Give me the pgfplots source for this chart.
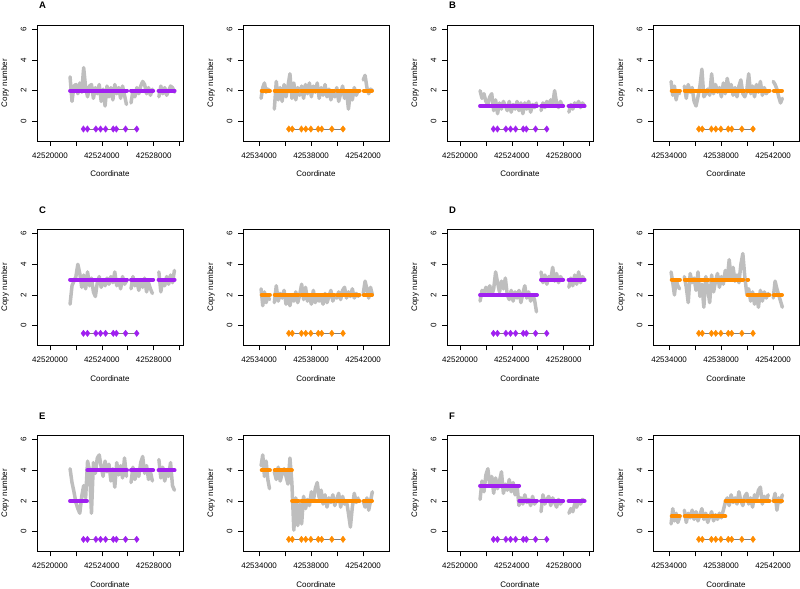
\documentclass[border=0pt]{standalone}
\usepackage{fontspec}
\setmainfont{Liberation Sans}
\usepackage{pgfplots}
\usepackage{pgfplotstable}
\pgfplotsset{compat=1.18}

\definecolor{cnpurple}{HTML}{A020F0}
\definecolor{cnorange}{HTML}{FF8C00}
\definecolor{cngrey}{HTML}{BEBEBE}
\definecolor{genegrey}{HTML}{808080}

% left half panels (purple), copy number per probe, nan = gap
\pgfplotstableread{
x        A   B   C   D   E   F
42521550 2.9 2.0 1.4 1.6 4.1 2.1
42521700 1.3 1.5 2.6 2.3 3.2 3.3
42521850 2.3 1.8 2.9 2.1 2.6 2.6
42522000 2.4 1.3 3.2 2.5 1.9 3.7
42522150 1.8 1.1 4.0 2.2 1.5 4.1
42522300 2.5 1.6 3.4 2.6 1.2 3.0
42522450 1.9 1.8 2.5 2.0 2.3 3.6
42522600 3.5 0.7 3.3 2.4 3.0 2.5
42522750 2.2 1.4 2.4 3.5 2.2 3.5
42522900 1.6 0.5 3.5 2.8 4.6 2.8
42523050 2.3 1.2 2.6 2.2 4.0 3.3
42523200 2.4 0.8 3.1 2.9 1.2 3.9
42523350 1.5 1.3 2.2 2.4 4.5 2.5
42523500 2.2 1.0 1.9 3.1 3.8 3.1
42523650 1.8 0.7 2.8 2.0 4.8 2.7
42523800 2.4 1.3 3.2 1.7 5.0 3.4
42523950 1.3 0.6 2.5 2.3 4.2 2.6
42524100 2.1 1.1 3.0 1.6 3.6 3.2
42524250 1.0 0.8 2.6 2.2 4.6 2.4
42524400 2.3 1.3 3.1 1.8 3.9 3.0
42524550 1.6 0.7 2.7 2.3 4.4 1.7
42524700 2.2 1.2 3.2 1.5 3.3 2.2
42524850 1.4 0.5 2.8 2.1 4.1 1.8
42525000 2.4 1.2 3.5 2.6 2.9 2.4
42525150 1.8 0.8 2.6 1.8 4.5 1.9
42525300 2.2 1.3 3.0 2.2 3.7 2.1
42525450 1.5 0.6 2.4 1.6 4.3 1.7
42525600 2.3 1.1 3.2 2.0 3.5 2.3
42525750 1.7 0.9 2.7 1.7 4.8 1.8
42525900 1.1 1.2 2.9 0.9 3.6 2.0
42526100 nan nan nan nan nan nan
42526250 1.2 0.7 2.4 3.5 3.2 1.3
42526400 2.0 1.2 3.2 2.8 4.2 2.4
42526550 1.6 0.9 2.6 3.3 3.4 1.8
42526700 2.2 1.3 2.9 2.7 3.9 2.1
42526850 1.8 1.0 2.3 3.2 3.6 2.3
42527000 2.3 1.4 3.0 3.0 4.5 1.7
42527150 2.6 1.1 2.5 3.8 4.9 2.2
42527300 2.4 2.0 3.1 2.9 3.8 1.9
42527450 1.8 1.2 2.2 3.4 4.3 1.6
42527600 2.2 0.9 2.8 2.8 3.4 2.1
42527750 1.7 1.3 2.4 3.2 3.9 1.8
42527900 2.1 1.0 2.1 3.0 3.3 2.0
42528150 nan nan nan nan nan nan
42528400 1.6 0.6 3.5 2.5 4.7 1.2
42528550 2.3 1.1 2.2 3.1 3.5 1.5
42528700 1.8 0.8 3.0 2.6 4.2 1.3
42528850 2.2 1.2 2.6 3.3 3.3 1.8
42529000 1.7 1.0 3.2 2.7 3.9 1.6
42529150 2.0 1.3 2.7 3.5 3.6 2.0
42529300 2.3 0.9 3.3 2.8 4.5 1.8
42529450 2.2 1.2 2.8 3.2 3.0 2.1
42529600 1.9 1.0 3.6 3.0 2.7 2.0
}\tabL

% right half panels (orange)
\pgfplotstableread{
x        A   B   C   D   E   F
42534150 1.5 2.6 2.4 3.5 4.3 0.5
42534280 2.2 1.7 1.3 2.8 5.0 1.5
42534410 2.5 2.3 2.2 2.0 3.6 0.7
42534540 1.9 1.4 1.5 3.0 4.6 1.2
42534670 2.1 2.0 1.9 2.6 3.4 0.6
42534800 2.0 1.8 1.7 2.4 2.8 0.9
42535000 nan nan nan nan nan nan
42535170 0.8 2.3 1.5 3.2 3.9 1.4
42535320 2.6 1.5 2.6 2.5 3.4 0.6
42535470 1.4 2.4 1.6 1.5 4.2 1.2
42535620 2.2 1.9 2.1 3.4 3.3 0.9
42535770 1.3 2.2 1.8 2.8 3.8 1.4
42535920 2.4 1.3 2.3 3.1 4.1 0.8
42536070 1.6 1.0 1.4 2.3 3.6 1.3
42536220 2.3 1.6 1.9 3.5 3.1 0.7
42536370 3.1 2.3 1.3 1.9 4.8 1.1
42536520 1.5 3.4 2.0 2.7 3.2 1.5
42536670 2.5 1.6 1.6 1.2 0.1 0.8
42536820 1.4 1.8 2.2 3.2 2.2 1.2
42536970 2.2 2.1 1.5 2.4 0.4 0.6
42537120 1.7 1.7 2.0 1.5 1.8 1.0
42537270 2.3 3.1 2.7 3.3 0.5 1.3
42537420 1.5 1.8 1.7 2.2 2.3 0.7
42537570 2.4 2.4 2.5 2.9 1.5 1.1
42537720 1.8 1.9 1.6 3.4 2.1 0.8
42537870 2.5 2.2 1.9 2.5 1.7 1.2
42538020 1.6 1.6 1.4 3.2 2.6 0.9
42538170 2.3 2.5 2.3 2.7 2.0 1.4
42538320 1.9 1.8 1.5 3.6 2.8 1.9
42538470 2.5 2.8 2.0 3.0 3.2 2.2
42538620 1.5 2.1 1.6 4.3 2.2 1.7
42538770 2.2 2.4 1.8 3.1 2.7 2.4
42538920 1.7 1.7 1.4 3.8 1.8 1.9
42539070 2.4 2.2 2.1 2.9 2.4 2.2
42539220 1.6 1.6 1.5 3.3 1.6 1.8
42539370 2.1 2.3 1.9 2.8 2.2 2.6
42539520 1.4 2.7 2.3 4.0 1.9 2.0
42539670 1.9 1.8 1.6 4.7 2.4 1.7
42539820 1.6 1.6 2.0 3.2 1.7 2.3
42539970 2.2 2.0 1.8 2.1 2.1 2.5
42540120 1.3 3.1 2.2 2.4 2.5 1.8
42540270 1.8 1.8 1.7 1.6 1.6 2.2
42540420 2.3 2.3 2.3 2.2 2.3 1.6
42540570 1.5 1.6 2.5 1.4 1.8 2.4
42540720 2.0 2.4 1.8 2.0 2.0 2.1
42540870 0.8 1.9 2.2 1.2 1.2 2.7
42541020 1.9 2.6 1.9 2.3 0.3 2.9
42541170 1.4 1.7 2.4 1.6 1.6 1.8
42541320 2.2 2.2 1.8 2.2 2.5 2.3
42541470 1.7 1.8 2.1 1.8 1.9 2.0
42541620 2.0 2.0 1.9 2.1 2.2 2.4
42541820 nan nan nan nan nan nan
42542010 2.7 2.6 2.1 1.8 2.0 2.0
42542150 3.0 2.4 2.9 2.9 1.6 2.5
42542290 2.2 2.1 2.4 2.4 2.2 1.4
42542430 1.8 1.6 1.8 2.0 1.4 2.2
42542570 2.1 1.2 2.5 1.6 2.0 1.9
42542710 2.0 1.5 2.0 1.2 2.6 2.4
}\tabR

\pgfplotsset{
  cn/.style={
    scale only axis, width=146bp, height=116bp,
    ymin=-1.28, ymax=6.28, ytick={0,2,4,6},
    axis line style={line width=0.6bp},
    tick align=outside, major tick length=5bp, tick pos=left,
    tick style={black, line width=0.6bp},
    scaled x ticks=false,
    font=\fontsize{8bp}{9.6bp}\selectfont,
    ticklabel style={font=\fontsize{8bp}{9.6bp}\selectfont},
    /pgf/number format/assume math mode=true,
    yticklabel style={rotate=90, anchor=south},
    xticklabel shift=3bp, yticklabel shift=2bp,
    xlabel=Coordinate, ylabel=Copy number,
    xlabel style={at={([yshift=-33bp]rel axis cs:0.5,0)}, anchor=center},
    ylabel style={at={([xshift=-32bp]rel axis cs:0,0.5)}, anchor=center},
    unbounded coords=jump,
  },
  colL/.style={cn, xmin=42519000, xmax=42530260,
    xtick={42520000,42522000,42524000,42526000,42528000,42530000},
    xticklabels={42520000,,42524000,,42528000,}},
  colR/.style={cn, xmin=42532760, xmax=42543990,
    xtick={42534000,42536000,42538000,42540000,42542000},
    xticklabels={42534000,,42538000,,42542000}},
  greyline/.style={cngrey, line width=3.5bp, line cap=round, line join=round, no marks},
  segL/.style={cnpurple, line width=4bp, line cap=round, no marks},
  segR/.style={cnorange, line width=4bp, line cap=round, no marks},
}

% gene structure (exons)
\newcommand{\geneL}{%
  \addplot[genegrey, line width=0.9bp, no marks] coordinates {(42522560,-0.5)(42526720,-0.5)};
  \addplot[only marks, mark=diamond*, mark size=3.2bp, cnpurple] coordinates {
    (42522580,-0.5)(42522890,-0.5)(42523540,-0.5)(42523900,-0.5)(42524290,-0.5)
    (42524880,-0.5)(42525120,-0.5)(42525830,-0.5)(42526690,-0.5)};}
\newcommand{\geneR}{%
  \addplot[genegrey, line width=0.9bp, no marks] coordinates {(42536260,-0.5)(42540470,-0.5)};
  \addplot[only marks, mark=diamond*, mark size=3.2bp, cnorange] coordinates {
    (42536285,-0.5)(42536550,-0.5)(42537253,-0.5)(42537588,-0.5)(42537978,-0.5)
    (42538547,-0.5)(42538813,-0.5)(42539593,-0.5)(42540451,-0.5)};}

\begin{document}
\begin{tikzpicture}
\useasboundingbox (0,0) rectangle (800bp,589bp);

% ---- row 1 ----
\begin{axis}[colL, name=pA, at={(37bp,564bp)}, anchor=north west]
  \addplot[greyline] table[x=x,y=A]{\tabL};
  \addplot[segL] coordinates {(42521550,2)(42525940,2)(42526100,nan)(42526250,2)(42527960,2)(42528150,nan)(42528380,2)(42529610,2)};
  \geneL
\end{axis}
\begin{axis}[colR, at={(243bp,564bp)}, anchor=north west]
  \addplot[greyline] table[x=x,y=A]{\tabR};
  \addplot[segR] coordinates {(42534200,2)(42534830,2)(42535000,nan)(42535200,2)(42537040,2)(42537100,nan)(42537230,2)(42539790,2)(42539900,nan)(42539990,2)(42541720,2)(42541820,nan)(42542050,2)(42542680,2)};
  \geneR
\end{axis}
\begin{axis}[colL, name=pB, at={(447bp,564bp)}, anchor=north west]
  \addplot[greyline] table[x=x,y=B]{\tabL};
  \addplot[segL] coordinates {(42521550,1)(42525940,1)(42526100,nan)(42526250,1)(42527960,1)(42528150,nan)(42528380,1)(42529610,1)};
  \geneL
\end{axis}
\begin{axis}[colR, at={(653bp,564bp)}, anchor=north west]
  \addplot[greyline] table[x=x,y=B]{\tabR};
  \addplot[segR] coordinates {(42534200,2)(42534830,2)(42535000,nan)(42535200,2)(42537040,2)(42537100,nan)(42537230,2)(42539790,2)(42539900,nan)(42539990,2)(42541720,2)(42541820,nan)(42542050,2)(42542680,2)};
  \geneR
\end{axis}

% ---- row 2 ----
\begin{axis}[colL, name=pC, at={(37bp,359.7bp)}, anchor=north west]
  \addplot[greyline] table[x=x,y=C]{\tabL};
  \addplot[segL] coordinates {(42521550,3)(42525940,3)(42526100,nan)(42526250,3)(42527960,3)(42528150,nan)(42528380,3)(42529610,3)};
  \geneL
\end{axis}
\begin{axis}[colR, at={(243bp,359.7bp)}, anchor=north west]
  \addplot[greyline] table[x=x,y=C]{\tabR};
  \addplot[segR] coordinates {(42534200,2)(42534830,2)(42535000,nan)(42535200,2)(42537040,2)(42537100,nan)(42537230,2)(42539790,2)(42539900,nan)(42539990,2)(42541720,2)(42541820,nan)(42542050,2)(42542680,2)};
  \geneR
\end{axis}
\begin{axis}[colL, name=pD, at={(447bp,359.7bp)}, anchor=north west]
  \addplot[greyline] table[x=x,y=D]{\tabL};
  \addplot[segL] coordinates {(42521550,2)(42525940,2)(42526100,nan)(42526250,3)(42527960,3)(42528150,nan)(42528380,3)(42529610,3)};
  \geneL
\end{axis}
\begin{axis}[colR, at={(653bp,359.7bp)}, anchor=north west]
  \addplot[greyline] table[x=x,y=D]{\tabR};
  \addplot[segR] coordinates {(42534200,3)(42534830,3)(42535000,nan)(42535200,3)(42537040,3)(42537100,nan)(42537230,3)(42539700,3)(42539900,nan)(42540020,3)(42540080,3)};
  \addplot[segR] coordinates {(42540020,2)(42541720,2)(42541820,nan)(42542050,2)(42542680,2)};
  \geneR
\end{axis}

% ---- row 3 ----
\begin{axis}[colL, name=pE, at={(37bp,153.7bp)}, anchor=north west]
  \addplot[greyline] table[x=x,y=E]{\tabL};
  \addplot[segL] coordinates {(42521550,2)(42522850,2)(42522870,nan)(42522880,4)(42525940,4)(42526100,nan)(42526250,4)(42527960,4)(42528150,nan)(42528380,4)(42529610,4)};
  \geneL
\end{axis}
\begin{axis}[colR, at={(243bp,153.7bp)}, anchor=north west]
  \addplot[greyline] table[x=x,y=E]{\tabR};
  \addplot[segR] coordinates {(42534200,4)(42534830,4)(42535000,nan)(42535200,4)(42536520,4)(42536530,nan)(42536540,2)(42537040,2)(42537100,nan)(42537230,2)(42539790,2)(42539900,nan)(42539990,2)(42541720,2)(42541820,nan)(42542050,2)(42542680,2)};
  \geneR
\end{axis}
\begin{axis}[colL, name=pF, at={(447bp,153.7bp)}, anchor=north west]
  \addplot[greyline] table[x=x,y=F]{\tabL};
  \addplot[segL] coordinates {(42521550,3)(42524560,3)(42524570,nan)(42524580,2)(42525940,2)(42526100,nan)(42526250,2)(42527960,2)(42528150,nan)(42528380,2)(42529610,2)};
  \geneL
\end{axis}
\begin{axis}[colR, at={(653bp,153.7bp)}, anchor=north west]
  \addplot[greyline] table[x=x,y=F]{\tabR};
  \addplot[segR] coordinates {(42534200,1)(42534830,1)(42535000,nan)(42535200,1)(42537040,1)(42537100,nan)(42537230,1)(42538320,1)(42538330,nan)(42538340,2)(42539790,2)(42539900,nan)(42539990,2)(42541720,2)(42541820,nan)(42542050,2)(42542680,2)};
  \geneR
\end{axis}

% panel letters
\foreach \p/\l in {pA/A,pB/B,pC/C,pD/D,pE/E,pF/F}
  \node[anchor=base west, inner sep=0pt, font=\bfseries\fontsize{9.5bp}{10bp}\selectfont]
    at ([xshift=2bp,yshift=16bp]\p.north west) {\l};
\end{tikzpicture}
\end{document}
